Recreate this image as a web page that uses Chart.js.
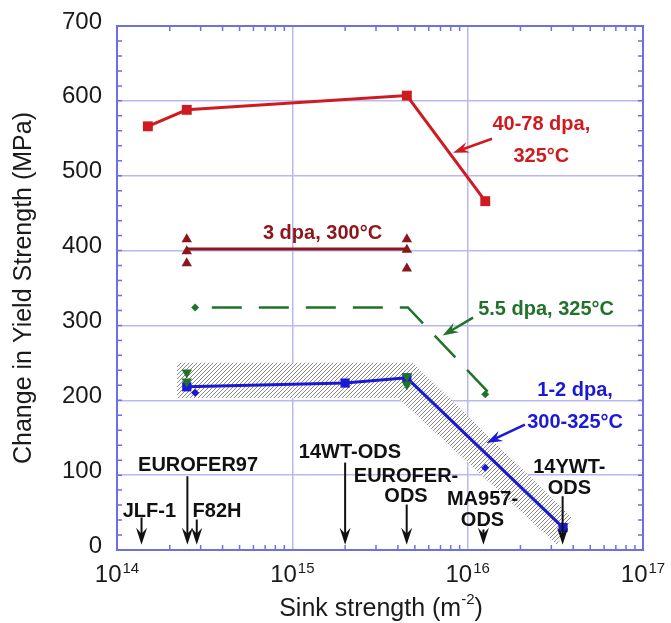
<!DOCTYPE html>
<html>
<head>
<meta charset="utf-8">
<script src="https://cdn.jsdelivr.net/npm/chart.js@4.4.1/dist/chart.umd.min.js"></script>
<style>
    body { margin: 0; background: #fff; }
    #wrap { width: 671px; height: 623px; }
</style>
</head>
<body>
<div id="wrap"><canvas id="sinkChart" width="671" height="623"></canvas></div>
<script>
// Sink strength (m^-2) vs. change in yield strength (MPa)

// 40-78 dpa, 325°C
const highDoseX = [1.5e14, 2.5e14, 4.5e15, 1.26e16];
const highDoseY = [566, 588, 607, 466];

// 3 dpa, 300°C
const dpa3LineX = [2.5e14, 4.5e15];
const dpa3LineY = [402, 402];
const dpa3X = [2.5e14, 2.5e14, 2.5e14, 4.5e15, 4.5e15, 4.5e15];
const dpa3Y = [415, 399, 383, 415, 401, 376];

// 5.5 dpa, 325°C
const dpa55TrendX = [2.79e14, 4.56e15, 1.41e16];
const dpa55TrendY = [324, 324, 203];
const dpa55DiamondX = [2.79e14, 1.26e16];
const dpa55DiamondY = [324, 208];
const dpa55TriX = [2.5e14, 2.5e14, 4.5e15, 4.5e15];
const dpa55TriY = [237, 225, 232, 221];

// 1-2 dpa, 300-325°C
const lowDoseX = [2.5e14, 2.0e15, 4.5e15, 3.5e16];
const lowDoseY = [218, 223, 230, 30];
const lowDoseDiamondX = [2.79e14, 1.26e16];
const lowDoseDiamondY = [210, 110];

// scatter band around the 1-2 dpa trend, as a closed outline
const bandX = [2.2e14, 4.88e15, 3.94e16, 3.23e16, 4.01e15, 2.2e14];
const bandY = [250, 250, 43, 7, 203, 203];

// materials marked along the sink strength axis
const materialNames = [["JLF-1"], ["EUROFER97"], ["F82H"], ["14WT-ODS"], ["EUROFER-", "ODS"], ["MA957-", "ODS"], ["14YWT-", "ODS"]];
const materialSink = [1.38e14, 2.52e14, 2.85e14, 2.0e15, 4.49e15, 1.23e16, 3.48e16];

const xDecades = [14, 15, 16, 17];

const FONT = "'Liberation Sans', Arial, Helvetica, sans-serif";
const RED = "#cf1b1f";
const DARK_RED = "#8c161b";
const GREEN = "#21722a";
const BLUE = "#1a1ad4";
const FRAME = "#6f6fe4";
const GRID = "#b9b9f2";

// label placement, in data units
const materialLabels = [
    { x: 1.53e14, y: 51.8, from: 43.4 },
    { x: 2.9e14, y: 112.8, from: 98.5 },
    { x: 3.72e14, y: 51.8, from: 40.7 },
    { x: 2.13e15, y: 130.6, from: 116.8 },
    { x: 4.45e15, y: 98.5, from: 60.7 },
    { x: 1.215e16, y: 67.4, from: 27.4 },
    { x: 3.8e16, y: 110.1, from: 71.8 },
];

const seriesLabels = [
    { lines: ["40-78 dpa,", "325°C"], color: RED, x: 2.63e16, y: 568, gap: 32,
      arrow: [1.377e16, 549.4, 8.25e15, 530.7] },
    { lines: ["3 dpa, 300°C"], color: DARK_RED, x: 1.486e15, y: 422.6, gap: 0 },
    { lines: ["5.5 dpa, 325°C"], color: GREEN, x: 2.8e16, y: 321.1, gap: 0,
      arrow: [1.073e16, 310.4, 7.2e15, 286.4] },
    { lines: ["1-2 dpa,", "300-325°C"], color: BLUE, x: 4.1e16, y: 213.4, gap: 32.6,
      arrow: [2.12e16, 167.6, 1.28e16, 143.1] },
];

function pairs(xs, ys) {
    return xs.map((x, i) => ({ x: x, y: ys[i] }));
}

function isDecade(v) {
    const l = Math.log10(v);
    return Math.abs(l - Math.round(l)) < 1e-6;
}

function hatchPattern(ctx) {
    const tile = document.createElement("canvas");
    tile.width = 4;
    tile.height = 4;
    const c = tile.getContext("2d");
    c.fillStyle = "#fff";
    c.fillRect(0, 0, 4, 4);
    c.strokeStyle = "#8a8a8a";
    c.lineWidth = 1;
    c.beginPath();
    c.moveTo(0, 4); c.lineTo(4, 0);
    c.moveTo(-1, 1); c.lineTo(1, -1);
    c.moveTo(3, 5); c.lineTo(5, 3);
    c.stroke();
    return ctx.createPattern(tile, "repeat");
}

function drawArrow(ctx, x1, y1, x2, y2, color, width, len, half) {
    const ang = Math.atan2(y2 - y1, x2 - x1);
    ctx.save();
    ctx.strokeStyle = color;
    ctx.fillStyle = color;
    ctx.lineWidth = width;
    ctx.beginPath();
    ctx.moveTo(x1, y1);
    ctx.lineTo(x2 - Math.cos(ang) * len * 0.6, y2 - Math.sin(ang) * len * 0.6);
    ctx.stroke();
    ctx.translate(x2, y2);
    ctx.rotate(ang);
    ctx.beginPath();
    ctx.moveTo(0, 0);
    ctx.lineTo(-len, -half);
    ctx.lineTo(-len * 0.65, 0);
    ctx.lineTo(-len, half);
    ctx.closePath();
    ctx.fill();
    ctx.restore();
}

const framePlugin = {
    id: "frame",
    beforeDatasetsDraw(chart) {
        const { ctx, chartArea: a, scales } = chart;
        ctx.save();
        ctx.strokeStyle = FRAME;
        ctx.lineWidth = 1.5;
        ctx.beginPath();
        // minor ticks on x, pointing inward from top and bottom
        for (let n = 14; n < 17; n++) {
            for (let k = 2; k <= 9; k++) {
                const px = scales.x.getPixelForValue(k * Math.pow(10, n));
                ctx.moveTo(px, a.bottom); ctx.lineTo(px, a.bottom - 5);
                ctx.moveTo(px, a.top); ctx.lineTo(px, a.top + 5);
            }
        }
        // minor ticks on y every 20 MPa
        for (let v = 20; v < 700; v += 20) {
            const py = scales.y.getPixelForValue(v);
            ctx.moveTo(a.left, py); ctx.lineTo(a.left + 5, py);
            ctx.moveTo(a.right, py); ctx.lineTo(a.right - 5, py);
        }
        ctx.stroke();
        ctx.lineWidth = 2;
        ctx.strokeRect(a.left, a.top, a.right - a.left, a.bottom - a.top);
        ctx.restore();
    },
    afterDraw(chart) {
        const { ctx, chartArea: a, scales } = chart;
        const xs = scales.x;
        const ys = scales.y;
        ctx.save();

        // decade labels 10^n
        ctx.fillStyle = "#1a1a1a";
        ctx.textBaseline = "alphabetic";
        ctx.textAlign = "left";
        for (const n of xDecades) {
            const px = xs.getPixelForValue(Math.pow(10, n));
            ctx.font = "24px " + FONT;
            const w1 = ctx.measureText("10").width;
            ctx.font = "15px " + FONT;
            const w2 = ctx.measureText(String(n)).width;
            const left = px - (w1 + w2 + 1) / 2;
            ctx.font = "24px " + FONT;
            ctx.fillText("10", left, 582);
            ctx.font = "15px " + FONT;
            ctx.fillText(String(n), left + w1 + 1, 573);
        }

        // x axis title with superscript unit
        ctx.font = "25px " + FONT;
        const t1 = "Sink strength (m";
        const wa = ctx.measureText(t1).width;
        const wc = ctx.measureText(")").width;
        ctx.font = "15px " + FONT;
        const wb = ctx.measureText("-2").width;
        let tx = (a.left + a.right) / 2 + 1 - (wa + wb + wc) / 2;
        ctx.font = "25px " + FONT;
        ctx.fillText(t1, tx, 616);
        ctx.font = "15px " + FONT;
        ctx.fillText("-2", tx + wa, 604);
        ctx.font = "25px " + FONT;
        ctx.fillText(")", tx + wa + wb, 616);

        // material markers
        ctx.font = "bold 20px " + FONT;
        ctx.textAlign = "center";
        ctx.textBaseline = "middle";
        ctx.fillStyle = "#111";
        materialNames.forEach((lines, i) => {
            const lab = materialLabels[i];
            const lx = xs.getPixelForValue(lab.x);
            const ly = ys.getPixelForValue(lab.y);
            lines.forEach((t, j) => ctx.fillText(t, lx, ly + j * 20.5));
            const ax = xs.getPixelForValue(materialSink[i]);
            drawArrow(ctx, ax, ys.getPixelForValue(lab.from), ax, ys.getPixelForValue(7), "#111", 2, 17, 5.5);
        });

        // series labels
        for (const s of seriesLabels) {
            ctx.fillStyle = s.color;
            const lx = xs.getPixelForValue(s.x);
            const ly = ys.getPixelForValue(s.y);
            s.lines.forEach((t, j) => ctx.fillText(t, lx, ly + j * s.gap));
            if (s.arrow) {
                drawArrow(ctx,
                    xs.getPixelForValue(s.arrow[0]), ys.getPixelForValue(s.arrow[1]),
                    xs.getPixelForValue(s.arrow[2]), ys.getPixelForValue(s.arrow[3]),
                    s.color, 2.5, 16, 5.5);
            }
        }
        ctx.restore();
    },
};

const canvas = document.getElementById("sinkChart");
const band = hatchPattern(canvas.getContext("2d"));

const data = {
    datasets: [
        {
            data: pairs(highDoseX, highDoseY),
            borderColor: RED,
            backgroundColor: RED,
            borderWidth: 3,
            pointStyle: "rect",
            pointRadius: 7,
            pointBorderWidth: 0,
            order: 1,
        },
        {
            data: pairs(dpa3LineX, dpa3LineY),
            borderColor: DARK_RED,
            borderWidth: 3,
            pointRadius: 0,
            order: 2,
        },
        {
            data: pairs(dpa3X, dpa3Y),
            showLine: false,
            backgroundColor: DARK_RED,
            borderColor: DARK_RED,
            pointStyle: "triangle",
            pointRadius: 6,
            pointBorderWidth: 0,
            order: 1,
        },
        {
            data: pairs(dpa55TrendX, dpa55TrendY),
            borderColor: GREEN,
            borderWidth: 2.5,
            borderDash: [30, 17],
            borderDashOffset: 30.3,
            pointRadius: 0,
            order: 3,
        },
        {
            data: pairs(dpa55DiamondX, dpa55DiamondY),
            showLine: false,
            backgroundColor: GREEN,
            borderColor: GREEN,
            pointStyle: "rectRot",
            pointRadius: 4,
            pointBorderWidth: 0,
            order: 1,
        },
        {
            data: pairs(dpa55TriX, dpa55TriY),
            showLine: false,
            backgroundColor: GREEN,
            borderColor: GREEN,
            pointStyle: "triangle",
            rotation: 180,
            pointRadius: 6,
            pointBorderWidth: 0,
            order: 1,
        },
        {
            data: pairs(lowDoseX, lowDoseY),
            borderColor: BLUE,
            backgroundColor: BLUE,
            borderWidth: 3,
            pointStyle: "rect",
            pointRadius: 6.5,
            pointBorderWidth: 0,
            order: 2,
        },
        {
            data: pairs(lowDoseDiamondX, lowDoseDiamondY),
            showLine: false,
            backgroundColor: BLUE,
            borderColor: BLUE,
            pointStyle: "rectRot",
            pointRadius: 4,
            pointBorderWidth: 0,
            order: 1,
        },
        {
            data: pairs(bandX, bandY),
            borderWidth: 0,
            borderColor: "rgba(0,0,0,0)",
            backgroundColor: band,
            fill: "shape",
            pointRadius: 0,
            order: 10,
        },
    ],
};

const config = {
    type: "line",
    data: data,
    options: {
        responsive: false,
        animation: false,
        layout: {
            padding: { left: 0, top: 26, right: 28, bottom: 0 },
        },
        scales: {
            x: {
                type: "logarithmic",
                min: 1e14,
                max: 1e17,
                position: "bottom",
                border: { display: false },
                grid: {
                    color: (c) => (c.tick && isDecade(c.tick.value) ? GRID : "rgba(0,0,0,0)"),
                    lineWidth: 1.5,
                    drawTicks: false,
                },
                ticks: { display: false },
                afterFit: (s) => {
                    s.height = 73;
                    s.paddingLeft = 0;
                    s.paddingRight = 0;
                },
            },
            y: {
                min: 0,
                max: 700,
                border: { display: false },
                grid: {
                    color: GRID,
                    lineWidth: 1.5,
                    drawTicks: false,
                },
                ticks: {
                    stepSize: 100,
                    padding: 15,
                    labelOffset: -4,
                    color: "#1a1a1a",
                    font: { size: 24, family: FONT },
                },
                title: {
                    display: true,
                    text: "Change in Yield Strength (MPa)",
                    color: "#1a1a1a",
                    font: { size: 25, family: FONT },
                    padding: { top: 9, bottom: 0 },
                },
                afterFit: (s) => {
                    s.width = 117;
                    s.paddingTop = 0;
                    s.paddingBottom = 0;
                },
            },
        },
        plugins: {
            legend: { display: false },
            tooltip: { enabled: false },
        },
    },
    plugins: [framePlugin],
};

new Chart(canvas, config);
</script>
</body>
</html>
